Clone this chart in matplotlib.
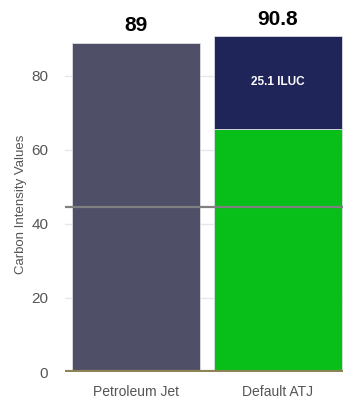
import matplotlib.pyplot as plt

plt.rcParams['font.family'] = ['Liberation Sans', 'DejaVu Sans']

# Chart data
categories = ['Petroleum Jet', 'Default ATJ']
base_values = [89, 65.7]
iluc_values = [0, 25.1]
totals = [89, 90.8]
threshold = 44.5

fig = plt.figure(figsize=(3.43, 3.98), dpi=100)
ax = fig.add_axes([65 / 343, 26 / 398, 278 / 343, 336 / 398])

x = range(len(categories))
base_colors = ['#4f5068', '#08bf1a']
ax.bar(x, base_values, width=0.9, color=base_colors, edgecolor='#dcdce4',
       linewidth=0.6, zorder=2)
ax.bar(x[1], iluc_values[1], bottom=base_values[1], width=0.9,
       color='#1f2459', edgecolor='#dcdce4', linewidth=0.6, zorder=2)

# labels on top and inside the ILUC part
for i, t in zip(x, totals):
    ax.text(i, t + 2.0, f'{t:g}', ha='center', va='bottom', fontsize=15,
            fontweight='bold', color='black', clip_on=False)
ax.text(1, base_values[1] + iluc_values[1] / 2, f'{iluc_values[1]} ILUC',
        ha='center', va='center', fontsize=8.5, fontweight='bold', color='white')

ax.axhline(threshold, color='#808080', linewidth=1.6, zorder=3)
ax.axhline(0, color='#8c8455', linewidth=3, zorder=4)

ax.set_xlim(-0.5, 1.458)
ax.set_ylim(0, 90.8)
ax.set_yticks([0, 20, 40, 60, 80])
ax.yaxis.grid(True, color='#e8e8e8', linewidth=1, zorder=0)
ax.set_axisbelow(True)
ax.set_xticks(list(x))
ax.set_xticklabels(categories)
ax.tick_params(axis='both', length=0, labelsize=11, colors='#555555')
ax.tick_params(axis='y', pad=12)
ax.tick_params(axis='x', labelsize=10, pad=9)
ax.set_ylabel('Carbon Intensity Values', fontsize=9.5, color='#555555', labelpad=3)
for s in ax.spines.values():
    s.set_visible(False)

fig.savefig('out.png', dpi=100)
